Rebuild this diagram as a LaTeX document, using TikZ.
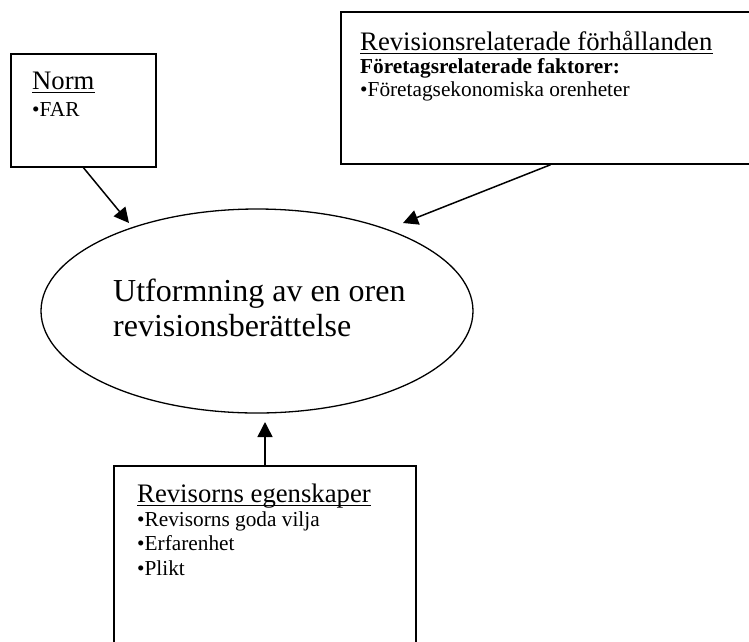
\documentclass[tikz,border=0pt]{standalone}
\usepackage{fontspec}
\setmainfont{Liberation Serif}
\usetikzlibrary{arrows.meta,shapes.geometric}

\begin{document}
\begin{tikzpicture}[x=1pt,y=-1pt,>={Triangle[length=15pt,width=15pt]},
  box/.style={draw,rectangle,line width=1.5pt,inner sep=0pt},
  head/.style={anchor=base west,inner sep=0pt,font=\fontsize{26.7}{30}\selectfont},
  item/.style={anchor=base west,inner sep=0pt,font=\fontsize{21.3}{24}\selectfont},
  uline/.style={line width=1.3pt},
  link/.style={->,line width=1.5pt}]
  \useasboundingbox (0,0) rectangle (749,641);
  % Norm (top left)
  \node[box,minimum width=145pt,minimum height=113pt] (norm) at (83.5,110.5) {};
  \node[head] (normhead) at (32,89) {Norm};
  \draw[uline] ([yshift=-3.5pt]normhead.base west) -- ([yshift=-3.5pt]normhead.base east);
  \node[item] (far) at (32,116) {•FAR};
  % revision conditions (top right, runs off the page)
  \node[box,minimum width=419pt,minimum height=152pt] (cond) at (550.5,88) {};
  \node[head] (condhead) at (360,50) {Revisionsrelaterade förhållanden};
  \draw[uline] ([yshift=-3.5pt]condhead.base west) -- ([yshift=-3.5pt]condhead.base east);
  \node[item,font=\fontsize{21.3}{24}\selectfont\bfseries] (firm) at (360,73) {Företagsrelaterade faktorer:};
  \node[item] (econ) at (360,96) {•Företagsekonomiska orenheter};
  % the auditor (bottom, runs off the page)
  \node[box,minimum width=302pt,minimum height=194pt] (traits) at (265,563) {};
  \node[head] (traitshead) at (137,502) {Revisorns egenskaper};
  \draw[uline] ([yshift=-3.5pt]traitshead.base west) -- ([yshift=-3.5pt]traitshead.base east);
  \node[item] (will) at (137,526) {•Revisorns goda vilja};
  \node[item] (exp) at (137,550) {•Erfarenhet};
  \node[item] (duty) at (137,575) {•Plikt};
  % the report itself
  \node[draw,ellipse,line width=1.3pt,inner sep=0pt,minimum width=432pt,minimum height=204pt] (goal) at (257,311) {};
  \node[anchor=base west,inner sep=0pt,font=\fontsize{32}{35}\selectfont] (goalA) at (113,301) {Utformning av en oren};
  \node[anchor=base west,inner sep=0pt,font=\fontsize{32}{35}\selectfont] (goalB) at (113,336) {revisionsberättelse};
  % arrows into the ellipse
  \coordinate (normtip) at (129,223);
  \coordinate (condtip) at (403,223);
  \coordinate (traitstip) at (265,422);
  \draw[link] (norm.south) -- (normtip);
  \draw[link] (cond.south) -- (condtip);
  \draw[link] (traits.north) -- (traitstip);
\end{tikzpicture}
\end{document}
